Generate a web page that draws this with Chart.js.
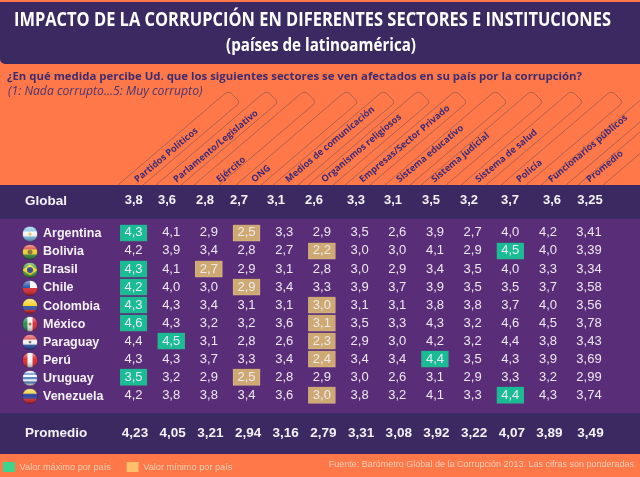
<!DOCTYPE html>
<html lang="es"><head><meta charset="utf-8">
<style>html,body{margin:0;padding:0;background:#FF7849}canvas{display:block}</style>
<script src="https://cdn.jsdelivr.net/npm/chart.js@4"></script>
</head><body><canvas id="c" width="640" height="477"></canvas>
<script>
const sectors = ["Partidos Políticos","Parlamento/Legislativo","Ejército","ONG","Medios de comunicación","Organismos religiosos","Empresas/Sector Privado","Sistema educativo","Sistema judicial","Sistema de salud","Policía","Funcionarios públicos","Promedio"];
const countries = ["Argentina","Bolivia","Brasil","Chile","Colombia","México","Paraguay","Perú","Uruguay","Venezuela"];
const argentina = [4.3,4.1,2.9,2.5,3.3,2.9,3.5,2.6,3.9,2.7,4.0,4.2,3.41];
const bolivia   = [4.2,3.9,3.4,2.8,2.7,2.2,3.0,3.0,4.1,2.9,4.5,4.0,3.39];
const brasil    = [4.3,4.1,2.7,2.9,3.1,2.8,3.0,2.9,3.4,3.5,4.0,3.3,3.34];
const chile     = [4.2,4.0,3.0,2.9,3.4,3.3,3.9,3.7,3.9,3.5,3.5,3.7,3.58];
const colombia  = [4.3,4.3,3.4,3.1,3.1,3.0,3.1,3.1,3.8,3.8,3.7,4.0,3.56];
const mexico    = [4.6,4.3,3.2,3.2,3.6,3.1,3.5,3.3,4.3,3.2,4.6,4.5,3.78];
const paraguay  = [4.4,4.5,3.1,2.8,2.6,2.3,2.9,3.0,4.2,3.2,4.4,3.8,3.43];
const peru      = [4.3,4.3,3.7,3.3,3.4,2.4,3.4,3.4,4.4,3.5,4.3,3.9,3.69];
const uruguay   = [3.5,3.2,2.9,2.5,2.8,2.9,3.0,2.6,3.1,2.9,3.3,3.2,2.99];
const venezuela = [4.2,3.8,3.8,3.4,3.6,3.0,3.8,3.2,4.1,3.3,4.4,4.3,3.74];
const globalRow = [3.8,3.6,2.8,2.7,3.1,2.6,3.3,3.1,3.5,3.2,3.7,3.6,3.25];
const promedioRow = [4.23,4.05,3.21,2.94,3.16,2.79,3.31,3.08,3.92,3.22,4.07,3.89,3.49];
const countryRows = [argentina,bolivia,brasil,chile,colombia,mexico,paraguay,peru,uruguay,venezuela];
const titleText = "IMPACTO DE LA CORRUPCIÓN EN DIFERENTES SECTORES E INSTITUCIONES";
const subtitleText = "(países de latinoamérica)";
const questionText = "¿En qué medida percibe Ud. que los siguientes sectores se ven afectados en su país por la corrupción?";
const scaleText = "(1: Nada corrupto...5: Muy corrupto)";
const sourceText = "Fuente: Barómetro Global de la Corrupción 2013. Las cifras son ponderadas";

/* layout (pixels) */
const PITCH = 37.68, X0 = 133.5, ROWH = 17.96, Y0 = 232.7, AREA_L = 120, AREA_R = 640, AREA_T = 185, AREA_B = 458;
const colPx = i => i === 12 ? 589 : X0 + i * PITCH;
const toCol = px => (px - X0) / PITCH;
const toRow = px => (px - Y0) / ROWH;
const HEAD_PX = [143,182,225,260,294,330,368,405,440,484,525,557,595];
const TAG_PX = [118,156,194,236,273,308,345,385,421,461,501,541,578];
const GLOBAL_PX = [133.7,167,205,239,276,314,356,393,431,469,510,552,590];
const PROM_SHIFT = 1.5, GLOBAL_Y = 200.5, PROM_Y = 432.3;
const ORANGE = "#FF7849", DARK = "#3B2A62", PURPLE = "#5A2D78", INK = "#3C2B78";
const SANS = '"Liberation Sans", Arial, sans-serif';
const fmt = (v, d) => v.toFixed(d).replace(".", ",");

const cells = [];
countryRows.forEach((row, r) => row.forEach((v, c) => cells.push({x: toCol(colPx(c)), y: r, v, d: c === 12 ? 2 : 1})));
const topCells = globalRow.map((v, c) => ({x: toCol(GLOBAL_PX[c]), y: toRow(GLOBAL_Y), v, d: c === 12 ? 2 : 1}));
const botCells = promedioRow.map((v, c) => ({x: toCol(colPx(c) + PROM_SHIFT), y: toRow(PROM_Y), v, d: 2}));

function extreme(row, pick) {
  const vals = row.slice(0, 12), target = pick(...vals);
  return vals.indexOf(target);
}
const barsFor = pick => countryRows.map((row, r) => ({x: toCol(colPx(extreme(row, pick))), y: [r - 0.457, r + 0.457]}));

function drawFlag(ctx, name, x, y, R) {
  ctx.save();
  ctx.beginPath(); ctx.arc(x, y, R, 0, Math.PI * 2); ctx.clip();
  const L = x - R, T = y - R, D = 2 * R;
  const h = (cs, ws) => { let t = T, s = ws.reduce((a, b) => a + b, 0); cs.forEach((c, i) => { ctx.fillStyle = c; const hh = D * ws[i] / s; ctx.fillRect(L, t, D, hh + 0.5); t += hh; }); };
  const v = cs => cs.forEach((c, i) => { ctx.fillStyle = c; ctx.fillRect(L + D * i / cs.length, T, D / cs.length + 0.5, D); });
  const dot = (c, r) => { ctx.fillStyle = c; ctx.beginPath(); ctx.arc(x, y, r, 0, 7); ctx.fill(); };
  if (name === "Argentina") { h(["#7CC0E8","#F4F6F8","#7CC0E8"], [1,1,1]); dot("#E8C050", 1.5); }
  else if (name === "Bolivia") { h(["#D53A2C","#EAD02A","#2E8B3A"], [1,1,1]); dot("#8A6A30", 2.5); }
  else if (name === "Brasil") { ctx.fillStyle = "#3C9A32"; ctx.fillRect(L,T,D,D); ctx.fillStyle = "#F0D820"; ctx.beginPath(); ctx.moveTo(L,y); ctx.lineTo(x,T+2); ctx.lineTo(L+D,y); ctx.lineTo(x,T+D-2); ctx.fill(); dot("#24408E", 3); }
  else if (name === "Chile") { h(["#F4F4F4","#D8232A"], [1,1]); ctx.fillStyle = "#1F4EA8"; ctx.fillRect(L,T,R,R); }
  else if (name === "Colombia") { h(["#F4D020","#2A4CA8","#D8232A"], [2,1,1]); }
  else if (name === "México") { v(["#1E8A46","#F2F2F2","#D4232E"]); dot("#A07840", 1.6); }
  else if (name === "Paraguay") { h(["#D8323A","#F4F4F4","#2A4CA8"], [1,1,1]); dot("#7A6A60", 1.4); }
  else if (name === "Perú") { v(["#D8232A","#F6F6F6","#D8232A"]); }
  else if (name === "Uruguay") { h(["#F4F6F8","#4C82C4","#F4F6F8","#4C82C4","#F4F6F8","#4C82C4","#F4F6F8"], [1,1,1,1,1,1,1]); }
  else if (name === "Venezuela") { h(["#F2D020","#2A3C9C","#D8232A"], [1,1,1]); }
  const g = ctx.createLinearGradient(0, T, 0, T + D);
  g.addColorStop(0, "rgba(255,255,255,.55)"); g.addColorStop(.45, "rgba(255,255,255,.05)"); g.addColorStop(1, "rgba(0,0,0,.38)");
  ctx.fillStyle = g; ctx.fillRect(L, T, D, D);
  ctx.restore();
  ctx.strokeStyle = "rgba(40,20,60,.5)"; ctx.lineWidth = .7;
  ctx.beginPath(); ctx.arc(x, y, R, 0, Math.PI * 2); ctx.stroke();
}
function fitted(ctx, text, left, width, y) {
  const m = ctx.measureText(text).width;
  ctx.save(); ctx.textAlign = "left"; ctx.translate(left, y); ctx.scale(width / m, 1);
  ctx.fillText(text, 0, 0); ctx.restore();
}

const backdrop = {
  id: "backdrop",
  beforeDraw(chart) {
    const {ctx, width: W, height: H} = chart;
    ctx.save();
    ctx.fillStyle = ORANGE; ctx.fillRect(0, 0, W, H);
    ctx.fillStyle = DARK;
    ctx.beginPath(); ctx.roundRect(0, 2, W, 62, [0,0,0,5]); ctx.fill();
    ctx.fillRect(0, 185, W, 34);
    ctx.fillRect(0, 413, W, 41);
    ctx.fillStyle = PURPLE; ctx.fillRect(0, 219, W, 194);
    /* rotated tag outlines */
    ctx.strokeStyle = "#9E5A50"; ctx.lineWidth = .8;
    TAG_PX.forEach(x0 => {
      ctx.beginPath();
      ctx.moveTo(x0, 185);
      ctx.lineTo(x0 + 107, 93.5);
      ctx.quadraticCurveTo(x0 + 110, 91, x0 + 113, 93);
      ctx.lineTo(x0 + 120, 100);
      ctx.quadraticCurveTo(x0 + 122, 103, x0 + 119, 105);
      ctx.lineTo(x0 + 25, 185);
      ctx.stroke();
    });
    /* header copy */
    ctx.textBaseline = "middle";
    ctx.fillStyle = "#FFFFFF";
    ctx.font = 'bold 20px "Open Sans", sans-serif';
    fitted(ctx, titleText, 14, 597, 20.5);
    ctx.font = 'bold 17px "Open Sans", sans-serif';
    fitted(ctx, subtitleText, 226, 190, 46.5);
    ctx.textAlign = "left"; ctx.fillStyle = "#3E2C70";
    ctx.font = 'bold 11.4px "Open Sans", sans-serif';
    ctx.fillText(questionText, 7, 76.5);
    ctx.font = 'italic 12.2px "Open Sans", sans-serif';
    ctx.fillStyle = "#4A3570";
    ctx.fillText(scaleText, 8, 92);
    ctx.fillStyle = "#F4CDB4"; ctx.textAlign = "right";
    ctx.font = '9px ' + SANS;
    ctx.fillText(sourceText, 634, 465);
    ctx.restore();
  }
};
const tableText = {
  id: "tableText",
  afterDatasetsDraw(chart) {
    const {ctx} = chart;
    const yS = chart.scales.y;
    ctx.save();
    ctx.textAlign = "center"; ctx.textBaseline = "middle";
    chart.data.datasets.forEach((ds, i) => {
      if (!ds.labelFont) return;
      ctx.font = ds.labelFont; ctx.fillStyle = ds.labelColor;
      chart.getDatasetMeta(i).data.forEach((pt, j) => {
        const raw = ds.data[j];
        ctx.fillText(fmt(raw.v, raw.d), pt.x, pt.y);
      });
    });
    ctx.fillStyle = "#F4F1F7"; ctx.textAlign = "left";
    ctx.font = 'bold 13.5px ' + SANS;
    ctx.fillText("Global", 25, 201);
    ctx.fillText("Promedio", 25, 433);
    countries.forEach((n, r) => drawFlag(ctx, n, 30, yS.getPixelForValue(r + 0.06), 7.6));
    ctx.restore();
  }
};

new Chart(document.getElementById("c"), {
  data: {
    datasets: [
      {type: "bar", label: "Valor máximo por país", data: barsFor(Math.max), backgroundColor: "#1ABC96", borderColor: "#2FAE8C", borderWidth: 1, barThickness: 27, grouped: false, order: 2},
      {type: "bar", label: "Valor mínimo por país", data: barsFor(Math.min), backgroundColor: "#CFA972", borderColor: "#D6B586", borderWidth: 1, barThickness: 27, grouped: false, order: 2},
      {type: "scatter", label: "Países", data: cells, pointRadius: 0, labelFont: '13px ' + SANS, labelColor: "#EDE8F1", order: 1},
      {type: "scatter", label: "Global", data: topCells, pointRadius: 0, labelFont: 'bold 13px ' + SANS, labelColor: "#F4F1F7", order: 1},
      {type: "scatter", label: "Promedio", data: botCells, pointRadius: 0, labelFont: 'bold 13.5px ' + SANS, labelColor: "#F4F1F7", order: 1}
    ]
  },
  options: {
    responsive: false, animation: false, events: [],
    layout: {padding: {left: 0, right: 0, top: 0, bottom: -5}},
    scales: {
      x: {
        type: "linear", position: "top", offset: false,
        min: toCol(AREA_L), max: toCol(AREA_R),
        grid: {display: false, offset: false}, border: {display: false},
        afterBuildTicks(s) { s.ticks = HEAD_PX.map(p => ({value: toCol(p)})); },
        afterFit(s) { s.height = AREA_T; s.paddingLeft = 0; s.paddingRight = 0; },
        ticks: {
          autoSkip: false, minRotation: 40, maxRotation: 40, padding: -8,
          color: INK, font: {family: '"Open Sans", sans-serif', size: 9.2, weight: "bold"},
          callback: (v, i) => sectors[i]
        }
      },
      y: {
        type: "linear", reverse: true, position: "left", weight: 0,
        min: toRow(AREA_T), max: toRow(AREA_B),
        grid: {display: false}, border: {display: false},
        afterBuildTicks(s) { s.ticks = countries.map((n, r) => ({value: r + 0.06})); },
        afterFit(s) { s.width = AREA_L - 43; s.paddingTop = 0; s.paddingBottom = 0; },
        ticks: {
          autoSkip: false, crossAlign: "far", padding: 0,
          color: "#F4F1F7", font: {family: "Liberation Sans", size: 12.5, weight: "bold"},
          callback: (v, i) => countries[i]
        }
      },
      flagGutter: {
        axis: "y", type: "linear", position: "left", weight: 1, display: true,
        grid: {display: false}, border: {display: false}, ticks: {display: false},
        afterFit(s) { s.width = 43; s.paddingTop = 0; s.paddingBottom = 0; }
      }
    },
    plugins: {
      tooltip: {enabled: false},
      title: {display: false},
      legend: {
        display: true, position: "bottom", align: "start",
        labels: {
          padding: 3, boxWidth: 12, boxHeight: 10, color: "#F4CDB4",
          font: {family: "Liberation Sans", size: 9.2},
          generateLabels: () => [
            {text: "Valor máximo por país     ", fillStyle: "#3FD48C", strokeStyle: "#3FD48C", lineWidth: 0, fontColor: "#F4CDB4"},
            {text: "Valor mínimo por país", fillStyle: "#FFBF6B", strokeStyle: "#FFBF6B", lineWidth: 0, fontColor: "#F4CDB4"}
          ]
        }
      }
    }
  },
  plugins: [backdrop, tableText]
});
</script></body></html>
